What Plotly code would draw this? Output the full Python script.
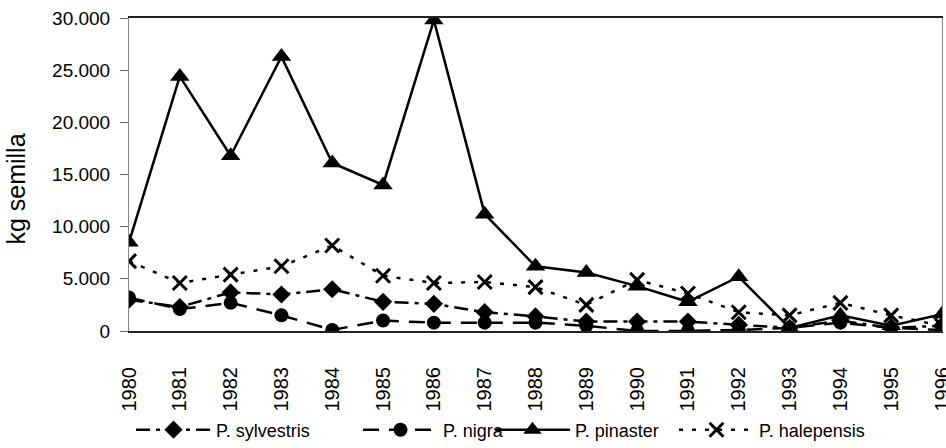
import plotly.graph_objects as go

years = list(range(1980, 1997))
year_labels = [str(y) for y in years]

sylvestris = [3000, 2300, 3700, 3500, 4000, 2800, 2600, 1800, 1400, 900, 900, 900, 600, 300, 1000, 300, 500]
nigra = [3200, 2100, 2700, 1500, 100, 1000, 800, 800, 800, 500, 0, 0, 100, 300, 800, 300, 100]
pinaster = [8500, 24400, 16800, 26300, 16100, 14000, 29800, 11200, 6200, 5600, 4300, 2800, 5200, 300, 1500, 500, 1600]
halepensis = [6700, 4600, 5400, 6200, 8200, 5300, 4600, 4700, 4200, 2500, 4900, 3600, 1800, 1500, 2700, 1500, 500]

y_ticks = [0, 5000, 10000, 15000, 20000, 25000, 30000]
y_tick_labels = ["0", "5.000", "10.000", "15.000", "20.000", "25.000", "30.000"]

FONT = "Liberation Sans, Arial, sans-serif"
W, H = 946, 448

fig = go.Figure()
fig.add_trace(go.Scatter(
    x=years, y=sylvestris, name="P. sylvestris", mode="lines+markers", legend="legend",
    line=dict(color="black", width=2.5, dash="14px,6px,4px,6px"),
    marker=dict(symbol="diamond", size=14, color="black")))
fig.add_trace(go.Scatter(
    x=years, y=nigra, name="P. nigra", mode="lines+markers", legend="legend2",
    line=dict(color="black", width=2.5, dash="16px,10px"),
    marker=dict(symbol="circle", size=14, color="black")))
fig.add_trace(go.Scatter(
    x=years, y=pinaster, name="P. pinaster", mode="lines+markers", legend="legend3",
    line=dict(color="black", width=2.5),
    marker=dict(symbol="triangle-up", size=17, color="black")))
fig.add_trace(go.Scatter(
    x=years, y=halepensis, name="P. halepensis", mode="lines+markers", legend="legend4",
    line=dict(color="black", width=2.5, dash="4px,9px"),
    marker=dict(symbol="x-thin", size=14, color="black",
                line=dict(color="black", width=3))))

def leg(xpix):
    return dict(orientation="h", xref="container", yref="container",
                x=xpix / W, y=(H - 430) / H, xanchor="left", yanchor="middle",
                font=dict(size=18), itemwidth=75, bgcolor="rgba(0,0,0,0)")

fig.update_layout(
    width=W, height=H,
    margin=dict(l=129, r=4, t=18, b=117, autoexpand=False),
    paper_bgcolor="white", plot_bgcolor="white",
    font=dict(family=FONT, size=19, color="black"),
    showlegend=True,
    legend=leg(131), legend2=leg(358), legend3=leg(490), legend4=leg(674),
    annotations=[dict(text="kg semilla", xref="paper", yref="paper",
                      x=-0.139, y=0.455, textangle=-90, showarrow=False,
                      xanchor="center", yanchor="middle",
                      font=dict(size=25, family=FONT))],
)
fig.update_xaxes(
    range=[1980, 1996], tickvals=years, ticktext=year_labels,
    tickangle=-90, showgrid=False, zeroline=False, automargin=False,
    showline=True, linecolor="#222", linewidth=2, mirror=True,
    ticks="", ticklabelstandoff=26, ticklabeloverflow="allow",
    tickfont=dict(size=20))
fig.update_yaxes(
    range=[0, 30000], tickvals=y_ticks, ticktext=y_tick_labels,
    showgrid=False, zeroline=False, automargin=False,
    showline=True, linecolor="#888", linewidth=1, mirror=True,
    ticks="outside", ticklen=8, tickcolor="#666", ticklabelstandoff=6,
    ticklabeloverflow="allow", tickfont=dict(size=19))

fig.write_html("out.html", config={"displayModeBar": False},
               post_script="document.body.style.margin='0';document.body.style.overflow='hidden';")
